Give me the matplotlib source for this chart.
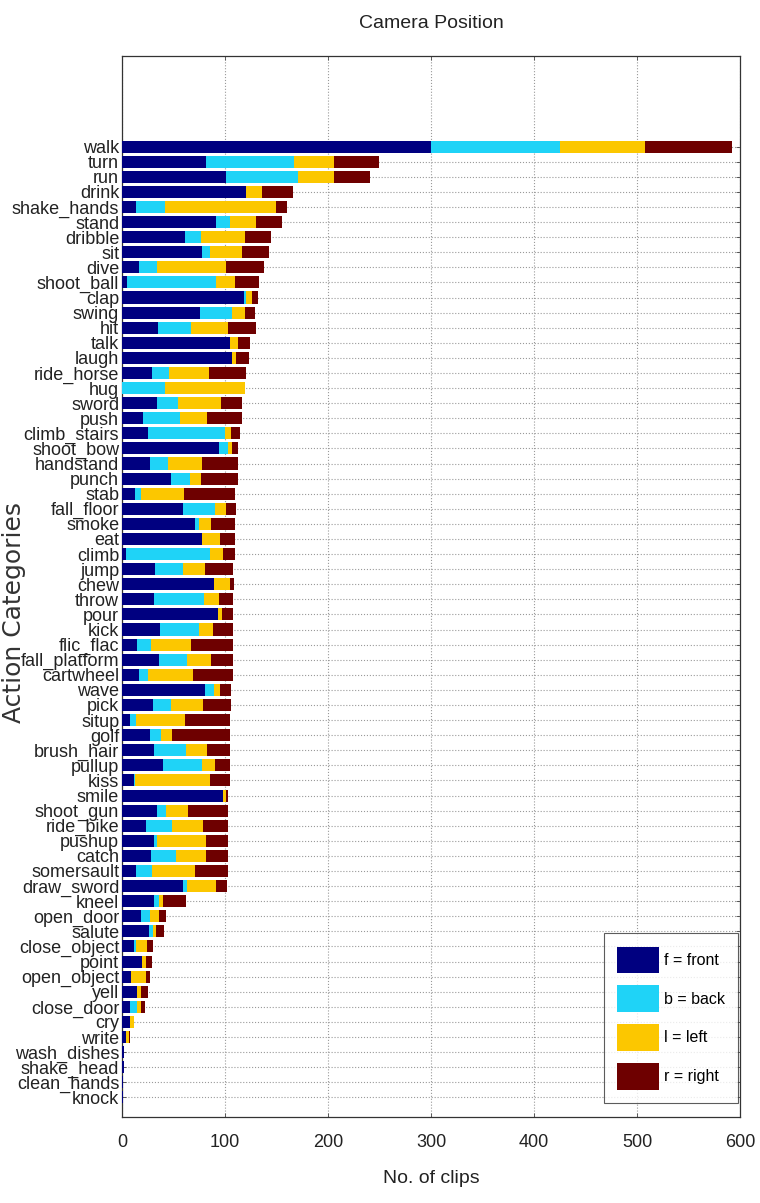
import numpy as np
import matplotlib.pyplot as plt

# ── Data: clips per action category, split by camera position ────────────────
categories = [
    'walk', 'turn', 'run', 'drink', 'shake_hands', 'stand', 'dribble', 'sit',
    'dive', 'shoot_ball', 'clap', 'swing', 'hit', 'talk', 'laugh', 'ride_horse',
    'hug', 'sword', 'push', 'climb_stairs', 'shoot_bow', 'handstand', 'punch',
    'stab', 'fall_floor', 'smoke', 'eat', 'climb', 'jump', 'chew', 'throw',
    'pour', 'kick', 'flic_flac', 'fall_platform', 'cartwheel', 'wave', 'pick',
    'situp', 'golf', 'brush_hair', 'pullup', 'kiss', 'smile', 'shoot_gun',
    'ride_bike', 'pushup', 'catch', 'somersault', 'draw_sword', 'kneel',
    'open_door', 'salute', 'close_object', 'point', 'open_object', 'yell',
    'close_door', 'cry', 'write', 'wash_dishes', 'shake_head', 'clean_hands',
    'knock',
]

front = [300, 82, 101, 120, 14, 91, 61, 78, 17, 5, 118, 76, 35, 105, 107, 29,
         0, 34, 20, 25, 94, 27, 48, 13, 59, 71, 78, 4, 32, 89, 31, 93, 37, 15,
         36, 17, 81, 30, 8, 27, 31, 40, 12, 98, 34, 23, 31, 28, 14, 59, 31, 18,
         26, 12, 19, 9, 15, 8, 8, 4, 2, 2, 1, 1]
back = [125, 85, 70, 0, 28, 14, 16, 7, 17, 86, 2, 31, 32, 0, 0, 17, 42, 20,
        36, 75, 9, 18, 18, 5, 31, 4, 0, 81, 27, 0, 49, 0, 38, 13, 27, 8, 8, 18,
        6, 11, 31, 38, 1, 0, 9, 26, 3, 24, 15, 4, 5, 9, 4, 2, 0, 0, 0, 7, 0, 0,
        0, 0, 0, 0]
left = [83, 39, 35, 16, 108, 25, 42, 32, 67, 19, 6, 12, 36, 8, 4, 38, 77, 42,
        27, 6, 4, 33, 11, 42, 11, 11, 17, 13, 22, 16, 14, 4, 13, 39, 23, 44, 6,
        31, 47, 11, 21, 12, 72, 3, 21, 30, 48, 30, 42, 28, 4, 9, 3, 10, 4, 14,
        3, 3, 4, 3, 0, 0, 0, 0]
right = [84, 44, 35, 30, 10, 25, 26, 26, 37, 23, 6, 10, 27, 11, 12, 36, 0, 21,
         34, 9, 6, 35, 36, 50, 10, 24, 15, 12, 27, 4, 14, 11, 20, 41, 22, 39,
         11, 27, 44, 56, 22, 15, 20, 2, 39, 24, 21, 21, 32, 11, 22, 7, 8, 6, 6,
         4, 7, 4, 0, 1, 0, 0, 0, 0]

series = [('f = front', front, '#000080'),
          ('b = back', back, '#1fd3f7'),
          ('l = left', left, '#fcc700'),
          ('r = right', right, '#6e0000')]

SANS = 'Liberation Sans'

# ── Plot ─────────────────────────────────────────────────────────────────────
fig = plt.figure(figsize=(7.6, 12.03), dpi=100)
fig.patch.set_facecolor('white')
ax = fig.add_axes([0.1605, 0.0715, 0.8132, 0.8819])

n = len(categories)
ypos = np.arange(n, 0, -1)
left_edge = np.zeros(n)
for label, vals, color in series:
    vals = np.array(vals, dtype=float)
    ax.barh(ypos, vals, left=left_edge, height=0.8, color=color,
            edgecolor='none', label=label, zorder=3)
    left_edge += vals

ax.set_xlim(0, 600)
ax.set_ylim(-0.3, 70)
ax.set_xticks(np.arange(0, 601, 100))
ax.set_yticks(ypos)
ax.set_yticklabels(categories, family=SANS, fontsize=13, color='#222222')
for t in ax.get_xticklabels():
    t.set_family(SANS)
    t.set_fontsize(13)
    t.set_color('#222222')

ax.tick_params(axis='both', direction='in', top=True, right=True,
               length=3, width=0.6, color='#444444')
ax.tick_params(axis='x', pad=12)
ax.tick_params(axis='y', pad=2)
ax.grid(True, linestyle=':', linewidth=0.8, color='#9a9a9a', zorder=0)
ax.set_axisbelow(True)
for sp in ax.spines.values():
    sp.set_color('#333333')
    sp.set_linewidth(0.9)

# ── Labels ───────────────────────────────────────────────────────────────────
ax.set_title('Camera Position', family=SANS, fontsize=14, pad=20,
             color='#222222')
ax.set_xlabel('No. of clips', family=SANS, fontsize=14, labelpad=14,
              color='#222222')
fig.text(0.019, 0.491, 'Action Categories', rotation=90, ha='center',
         va='center', fontsize=18, color='#333333')

leg = ax.legend(loc='lower right', bbox_to_anchor=(0.997, 0.013),
                prop={'family': SANS, 'size': 11.5}, frameon=True,
                fancybox=False, edgecolor='#333333', handlelength=2.6,
                handleheight=2.2, labelspacing=0.75, handletextpad=0.3,
                borderpad=0.85, borderaxespad=0)
leg.get_frame().set_linewidth(0.8)

plt.savefig('out.png', dpi=100)
